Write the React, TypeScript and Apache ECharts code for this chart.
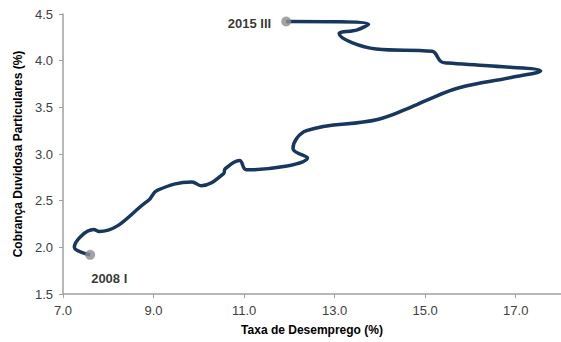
import React, { useEffect, useRef } from "react";
import * as echarts from "echarts";

const quarters = [
  "2008 I", "2008 II", "2008 III", "2008 IV",
  "2009 I", "2009 II", "2009 III", "2009 IV",
  "2010 I", "2010 II", "2010 III", "2010 IV",
  "2011 I", "2011 II", "2011 III", "2011 IV",
  "2012 I", "2012 II", "2012 III", "2012 IV",
  "2013 I", "2013 II", "2013 III", "2013 IV",
  "2014 I", "2014 II", "2014 III", "2014 IV",
  "2015 I", "2015 II", "2015 III",
];

const unemployment = [
  7.6, 7.25, 7.68, 7.8,
  8.88, 9.08, 9.85, 10.05,
  10.55, 10.58, 10.9, 11.05,
  12.4, 12.08, 12.38, 13.95,
  14.82, 15.0, 15.75, 16.9,
  17.55, 16.4, 15.5, 15.35,
  15.15, 13.92, 13.1, 13.5,
  13.75, 12.0, 11.93,
];

const doubtfulCredit = [
  1.92, 2.0, 2.19, 2.17,
  2.5, 2.61, 2.7, 2.66,
  2.79, 2.84, 2.93, 2.83,
  2.96, 3.06, 3.25, 3.37,
  3.53, 3.57, 3.71, 3.82,
  3.89, 3.945, 3.975, 3.99,
  4.1, 4.125, 4.29, 4.33,
  4.39, 4.42, 4.42,
];

const xTicks = { min: 7, max: 18, interval: 2 };
const yTicks = { min: 1.5, max: 4.5, interval: 0.5 };

const FONT = "'Liberation Sans', Arial, sans-serif";

export default function App() {
  const ref = useRef<HTMLDivElement>(null);

  useEffect(() => {
    if (!ref.current) return;
    const chart = echarts.init(ref.current, undefined, { renderer: "svg" });
    const points = unemployment.map((x, i) => [x, doubtfulCredit[i]]);
    const last = points.length - 1;

    chart.setOption({
      animation: false,
      backgroundColor: "#ffffff",
      textStyle: { fontFamily: FONT },
      grid: { left: 63, top: 14, bottom: 48, right: -5 },
      xAxis: {
        type: "value",
        min: xTicks.min,
        max: xTicks.max,
        interval: xTicks.interval,
        name: "Taxa de Desemprego (%)",
        nameLocation: "middle",
        nameGap: 30,
        nameTextStyle: { fontFamily: FONT, fontSize: 12, fontWeight: "bold", color: "#000" },
        axisLine: { show: true, lineStyle: { color: "#a0a0a0", width: 1.5 } },
        axisTick: { show: true, length: 4, lineStyle: { color: "#a0a0a0" } },
        axisLabel: {
          margin: 10,
          fontSize: 13,
          color: "#404040",
          fontFamily: FONT,
          showMaxLabel: false,
          formatter: (v: number) => v.toFixed(1),
        },
        splitLine: { show: false },
      },
      yAxis: {
        type: "value",
        min: yTicks.min,
        max: yTicks.max,
        interval: yTicks.interval,
        name: "Cobrança Duvidosa Particulares (%)",
        nameLocation: "middle",
        nameGap: 36,
        nameTextStyle: { fontFamily: FONT, fontSize: 12, fontWeight: "bold", color: "#000" },
        axisLine: { show: true, lineStyle: { color: "#a0a0a0", width: 1.5 } },
        axisTick: { show: true, length: 4, lineStyle: { color: "#a0a0a0" } },
        axisLabel: {
          margin: 10,
          fontSize: 13,
          color: "#404040",
          fontFamily: FONT,
          formatter: (v: number) => v.toFixed(1),
        },
        splitLine: { show: false },
      },
      series: [
        {
          type: "line",
          data: points,
          smooth: 0.4,
          showSymbol: false,
          symbol: "none",
          lineStyle: { color: "#17375e", width: 3.5 },
          z: 2,
        },
        {
          type: "scatter",
          symbolSize: 10,
          itemStyle: { color: "#8c8c8c" },
          z: 3,
          data: [
            {
              value: points[0],
              name: quarters[0],
              label: {
                show: true,
                formatter: quarters[0],
                position: [6, 22],
                fontSize: 13,
                fontWeight: "bold",
                color: "#000",
                fontFamily: FONT,
              },
            },
            {
              value: points[last],
              name: quarters[last],
              label: {
                show: true,
                formatter: quarters[last],
                position: "left",
                distance: 10,
                offset: [0, 2],
                fontSize: 13,
                fontWeight: "bold",
                color: "#000",
                fontFamily: FONT,
              },
            },
          ],
        },
      ],
    });

    return () => chart.dispose();
  }, []);

  return (
    <div
      ref={ref}
      style={{ position: "fixed", left: 0, top: 0, width: 561, height: 342, background: "#fff" }}
    />
  );
}
